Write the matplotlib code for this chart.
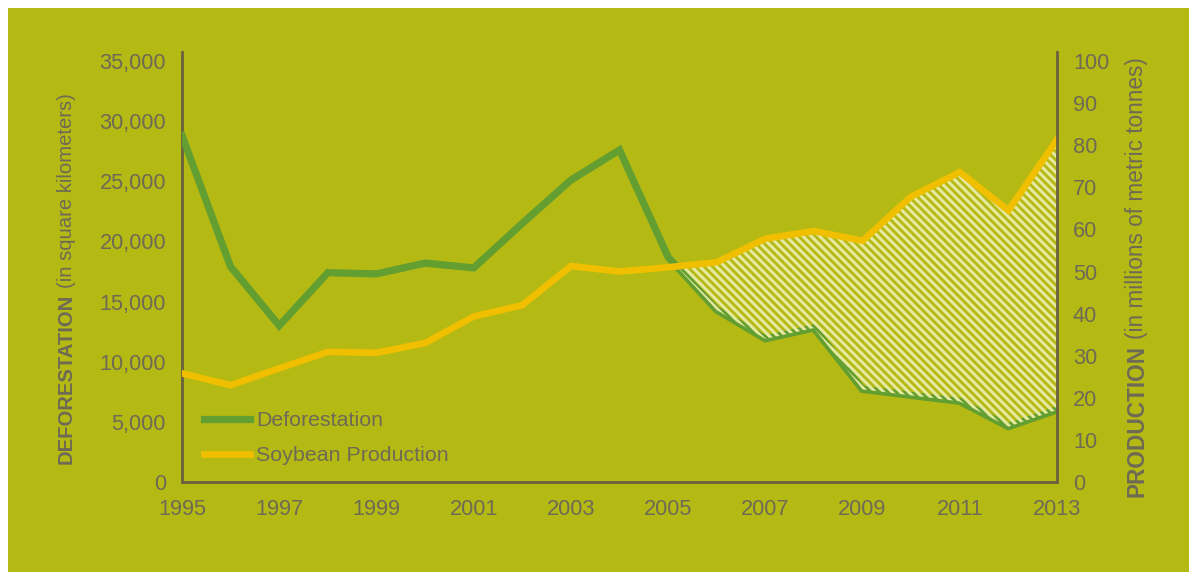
import matplotlib
matplotlib.use("Agg")
import matplotlib.pyplot as plt
import numpy as np

# Annual data
years = [1995, 1996, 1997, 1998, 1999, 2000, 2001, 2002, 2003, 2004,
         2005, 2006, 2007, 2008, 2009, 2010, 2011, 2012, 2013]
deforestation = [28800, 17900, 13000, 17400, 17300, 18200, 17800, 21500, 25100, 27600,
                 18700, 14300, 11900, 12800, 7700, 7200, 6700, 4600, 6000]
soy_production = [25.8, 23.0, 27.0, 30.9, 30.7, 33.0, 39.3, 42.0, 51.3, 50.0,
                  51.0, 52.2, 57.8, 59.6, 57.3, 67.8, 73.6, 64.5, 81.3]

left_ticks = [0, 5000, 10000, 15000, 20000, 25000, 30000, 35000]
left_tick_labels = ["0", "5,000", "10,000", "15,000", "20,000", "25,000", "30,000", "35,000"]
right_ticks = [0, 10, 20, 30, 40, 50, 60, 70, 80, 90, 100]
year_ticks = [1995, 1997, 1999, 2001, 2003, 2005, 2007, 2009, 2011, 2013]

BG = "#b4b914"
GREEN = "#629e30"
YELLOW = "#f0c000"
TEXT = "#6e6a55"
AXIS = "#6b6040"
HATCH = "#e6eaa0"

plt.rcParams["font.family"] = ["Liberation Sans", "DejaVu Sans"]
plt.rcParams["hatch.linewidth"] = 2.2
plt.rcParams["hatch.color"] = HATCH

W, H = 1189, 572
fig = plt.figure(figsize=(W / 100, H / 100), dpi=100)
fig.patch.set_facecolor("white")
# coloured panel, leaving a thin white margin on the left and top
panel = plt.Rectangle((8 / W, 0), 1, 1 - 8 / H, transform=fig.transFigure,
                      facecolor=BG, edgecolor="none", zorder=-10)
fig.add_artist(panel)

x0, x1 = 182 / W, 1057 / W
y0, y1 = 1 - 482 / H, 1 - 52 / H
ax = fig.add_axes([x0, y0, x1 - x0, y1 - y0])
ax.set_facecolor("none")
ax2 = ax.twinx()

ext = (482 - 52) / (482 - 61)
ax.set_ylim(0, 35000 * ext)
ax2.set_ylim(0, 100 * ext)
ax.set_xlim(1995, 2013)

ax.plot(years, deforestation, color=GREEN, lw=5.2, solid_joinstyle="miter",
        label="Deforestation", zorder=3)

# deforestation expressed in right-axis units for the shaded gap
def_scaled = np.array(deforestation) * 100 / 35000
soy = np.array(soy_production)
ax2.fill_between(years, def_scaled, soy, where=soy > def_scaled, interpolate=True,
                 facecolor="none", edgecolor=HATCH, hatch="\\" * 4, linewidth=0, zorder=1)
ax2.plot(years, soy_production, color=YELLOW, lw=4.8, solid_joinstyle="miter",
         label="Soybean Production", zorder=2)

for a in (ax, ax2):
    for s in a.spines.values():
        s.set_visible(False)
    a.tick_params(length=0, labelsize=15.7, labelcolor=TEXT)
ax.spines["left"].set_visible(True)
ax.spines["bottom"].set_visible(True)
ax2.spines["right"].set_visible(True)
for s in (ax.spines["left"], ax.spines["bottom"], ax2.spines["right"]):
    s.set_color(AXIS)
    s.set_linewidth(2)

ax.set_yticks(left_ticks)
ax.set_yticklabels(left_tick_labels)
ax2.set_yticks(right_ticks)
ax.set_xticks(year_ticks)
ax.tick_params(axis="y", pad=11.5)
ax.tick_params(axis="x", pad=12)
ax2.tick_params(axis="y", pad=11.5)

handles = ax.get_lines() + ax2.get_lines()
leg = ax.legend(handles, [h.get_label() for h in handles], loc="upper left",
                bbox_to_anchor=(204 / W, 1 - 411 / H), bbox_transform=fig.transFigure,
                frameon=False, fontsize=15.4, handlelength=2.15, handletextpad=0.3,
                labelspacing=0.75, borderpad=0, borderaxespad=0)
for t in leg.get_texts():
    t.set_color(TEXT)

# axis titles: bold lead word followed by regular text, rotated
renderer = fig.canvas.get_renderer()


def axis_title(xc, ybottom, bold, regular, size):
    t1 = fig.text(xc / W, 1 - ybottom / H, bold, rotation=90, fontsize=size,
                  fontweight="bold", color=TEXT, ha="center", va="bottom")
    bb = t1.get_window_extent(renderer)
    fig.text(xc / W, (bb.y1 + 6) / H, regular, rotation=90, fontsize=size,
             color=TEXT, ha="center", va="bottom")


axis_title(66, 464, "DEFORESTATION", "(in square kilometers)", 14.6)
axis_title(1137, 497, "PRODUCTION", "(in millions of metric tonnes)", 16.3)

fig.savefig("out.png", dpi=100, facecolor=fig.get_facecolor())
